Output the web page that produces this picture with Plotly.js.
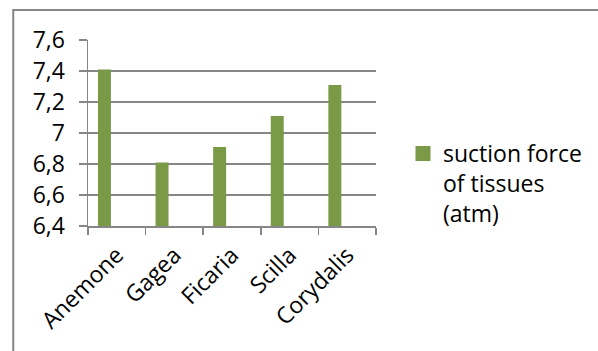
<!DOCTYPE html>
<html>
<head>
<meta charset="utf-8">
<script src="https://cdn.plot.ly/plotly-3.0.1.min.js"></script>
<style>
html,body{margin:0;padding:0;background:#fff;overflow:hidden;}
#chart{width:598px;height:351px;}
</style>
</head>
<body>
<div id="chart"></div>
<script>
// Data
const categories = ["Anemone", "Gagea", "Ficaria", "Scilla", "Corydalis"];
const suctionForce = [7.4, 6.8, 6.9, 7.1, 7.3];
const seriesName = "suction force<br>of tissues<br>(atm)";
const yTickValues = [6.4, 6.6, 6.8, 7.0, 7.2, 7.4, 7.6];

// Layout geometry (pixels)
const W = 598, H = 351;
const L = 88, R = 221, T = 40, B = 125;
const plotW = W - L - R, plotH = H - T - B;
const px = x => (x - L) / plotW;
const py = y => (H - B - y) / plotH;

const grey = '#868686';
const barColor = '#7a9a47';
const fontFam = '"Open Sans", sans-serif';
const fs = 23;

const trace = {
  type: 'bar',
  x: categories,
  y: suctionForce,
  name: seriesName,
  width: 0.173,
  offset: -0.301,
  marker: {color: barColor, line: {width: 3, color: barColor}},
  showlegend: true,
  hoverinfo: 'x+y'
};

const layout = {
  width: W, height: H,
  margin: {l: L, r: R, t: T, b: B, pad: 0},
  paper_bgcolor: '#fff',
  plot_bgcolor: '#fff',
  separators: ', ',
  font: {family: fontFam, color: '#000', size: fs},
  showlegend: true,
  legend: {
    x: px(403), xanchor: 'left',
    y: py(132), yanchor: 'top',
    valign: 'top',
    font: {family: fontFam, size: fs, color: '#000'},
    bgcolor: 'rgba(0,0,0,0)',
    borderwidth: 0
  },
  xaxis: {
    type: 'category',
    showgrid: false,
    showline: true,
    linecolor: grey,
    linewidth: 1.5,
    ticks: 'outside',
    tickson: 'boundaries',
    ticklen: 7,
    tickcolor: grey,
    tickwidth: 1.5,
    tickangle: -45,
    ticklabelstandoff: 5,
    tickfont: {family: fontFam, size: fs, color: '#000'},
    zeroline: false,
    fixedrange: true
  },
  yaxis: {
    range: [6.4, 7.6],
    tickvals: yTickValues,
    showgrid: true,
    gridcolor: grey,
    gridwidth: 1.5,
    showline: true,
    linecolor: grey,
    linewidth: 1.5,
    ticks: 'outside',
    ticklen: 8,
    tickcolor: grey,
    tickwidth: 1.5,
    ticklabelstandoff: 9,
    tickfont: {family: fontFam, size: fs, color: '#000'},
    zeroline: false,
    fixedrange: true
  },
  shapes: [{
    type: 'rect', xref: 'paper', yref: 'paper',
    x0: px(13), x1: px(640), y0: py(400), y1: py(10),
    line: {color: grey, width: 2},
    fillcolor: 'rgba(0,0,0,0)',
    layer: 'below'
  }]
};

Plotly.newPlot('chart', [trace], layout, {displayModeBar: false, staticPlot: true});
</script>
</body>
</html>
